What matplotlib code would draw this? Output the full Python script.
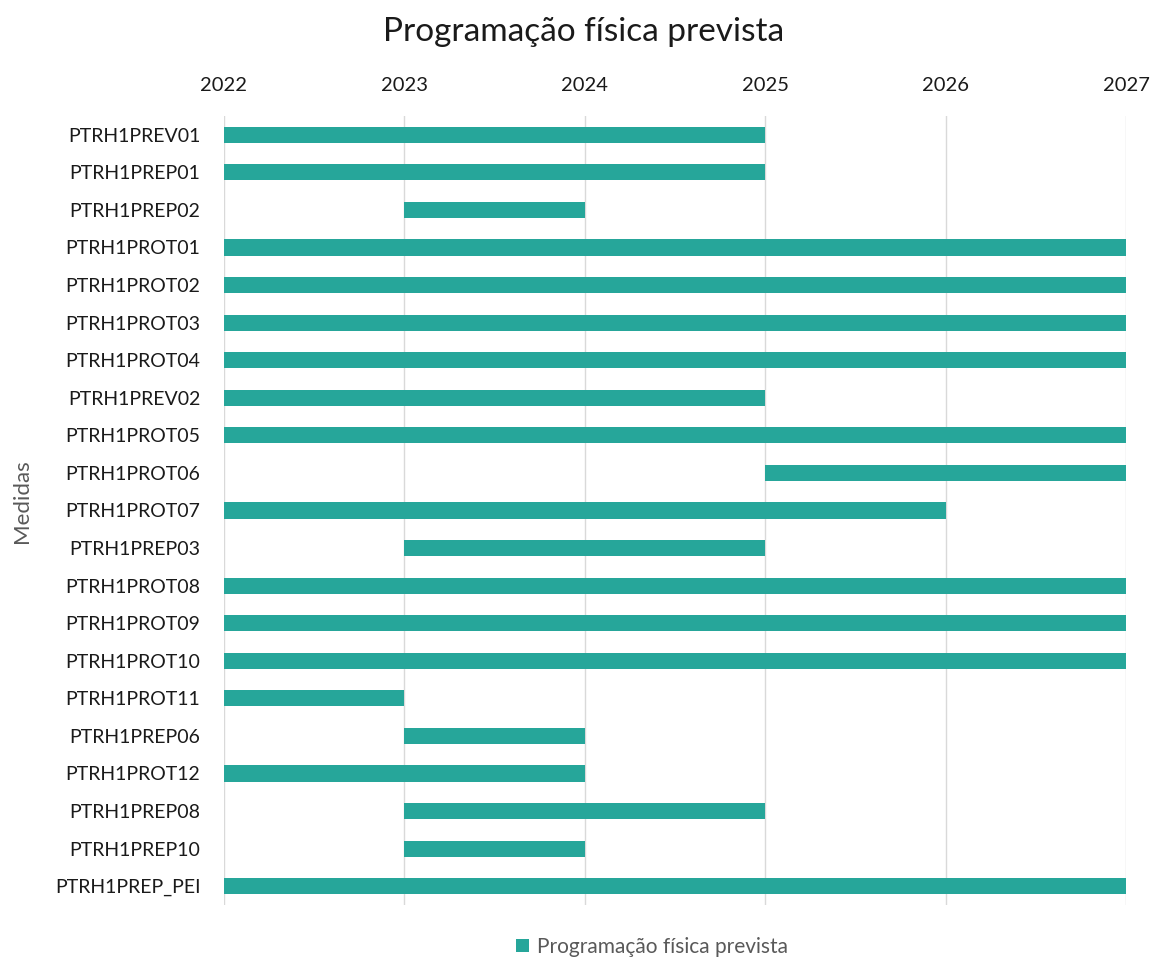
import matplotlib.pyplot as plt

plt.rcParams['font.family'] = ['Lato', 'DejaVu Sans']

medidas = ['PTRH1PREV01', 'PTRH1PREP01', 'PTRH1PREP02', 'PTRH1PROT01', 'PTRH1PROT02',
           'PTRH1PROT03', 'PTRH1PROT04', 'PTRH1PREV02', 'PTRH1PROT05', 'PTRH1PROT06',
           'PTRH1PROT07', 'PTRH1PREP03', 'PTRH1PROT08', 'PTRH1PROT09', 'PTRH1PROT10',
           'PTRH1PROT11', 'PTRH1PREP06', 'PTRH1PROT12', 'PTRH1PREP08', 'PTRH1PREP10',
           'PTRH1PREP_PEI']
inicio = [2022, 2022, 2023, 2022, 2022, 2022, 2022, 2022, 2022, 2025,
          2022, 2023, 2022, 2022, 2022, 2022, 2023, 2022, 2023, 2023, 2022]
fim = [2025, 2025, 2024, 2027, 2027, 2027, 2027, 2025, 2027, 2027,
       2026, 2025, 2027, 2027, 2027, 2023, 2024, 2024, 2025, 2024, 2027]
anos = [2022, 2023, 2024, 2025, 2026, 2027]

cor = '#26A69A'

fig = plt.figure(figsize=(11.54, 9.6), dpi=100)
ax = fig.add_axes([0.1941, 0.0573, 0.7816, 0.8219])

duracao = [f - i for i, f in zip(inicio, fim)]
pos = list(range(len(medidas)))
ax.barh(pos, duracao, left=inicio, height=0.43, color=cor,
        label='Programação física prevista', zorder=3)

ax.set_xlim(2022, 2027)
ax.set_ylim(len(medidas) - 0.5, -0.5)
ax.set_yticks(pos)
ax.set_yticklabels(medidas, fontsize=14, color='#1a1a1a')
ax.set_xticks(anos)
ax.set_xticklabels([str(a) for a in anos], fontsize=14.5, color='#1a1a1a')
ax.xaxis.tick_top()
ax.tick_params(axis='both', length=0)
ax.tick_params(axis='x', pad=16)
ax.tick_params(axis='y', pad=17)

ax.grid(axis='x', color='#D9D9D9', linewidth=1, zorder=0)
for s in ax.spines.values():
    s.set_visible(False)

fig.text(22 / 1154, 0.478, 'Medidas', rotation=90, fontsize=16, color='#595959',
         ha='center', va='center')
fig.text(0.506, 1 - 32 / 960, 'Programação física prevista', fontsize=24,
         color='#1a1a1a', ha='center', va='center')

fig.legend(loc='center', bbox_to_anchor=(0.565, 1 - 947 / 960), ncol=1, frameon=False,
           fontsize=15, labelcolor='#595959', handlelength=0.6, handleheight=0.6,
           handletextpad=0.4, borderpad=0)

fig.savefig('out.png', dpi=100)
